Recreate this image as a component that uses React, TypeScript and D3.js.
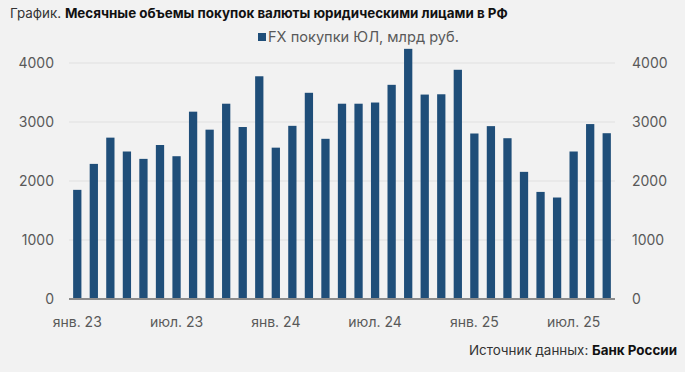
import React from 'react';
import * as d3 from 'd3';

const width = 685;
const height = 372;

// месяцы янв. 2023 – сен. 2025
const months = [
  '2023-01', '2023-02', '2023-03', '2023-04', '2023-05', '2023-06',
  '2023-07', '2023-08', '2023-09', '2023-10', '2023-11', '2023-12',
  '2024-01', '2024-02', '2024-03', '2024-04', '2024-05', '2024-06',
  '2024-07', '2024-08', '2024-09', '2024-10', '2024-11', '2024-12',
  '2025-01', '2025-02', '2025-03', '2025-04', '2025-05', '2025-06',
  '2025-07', '2025-08', '2025-09',
];
const fxPurchases = [
  1850, 2290, 2735, 2500, 2375, 2610, 2420, 3175, 2870, 3310, 2915, 3775,
  2565, 2935, 3495, 2715, 3310, 3310, 3330, 3630, 4240, 3465, 3470, 3885,
  2805, 2930, 2725, 2155, 1815, 1720, 2500, 2965, 2810,
];
const yTicks = [0, 1000, 2000, 3000, 4000];
const xTickMonths = ['2023-01', '2023-07', '2024-01', '2024-07', '2025-01', '2025-07'];
const xTickLabels = ['янв. 23', 'июл. 23', 'янв. 24', 'июл. 24', 'янв. 25', 'июл. 25'];

const barColor = '#1f4e79';
const textColor = '#595959';
const font = 'Inter, "Open Sans", sans-serif';

export default function App() {
  const x = d3.scaleBand<string>()
    .domain(months)
    .range([69, 615])
    .paddingInner(0.5)
    .paddingOuter(0.25);
  const y = d3.scaleLinear().domain([0, 4000]).range([299, 63]);

  return (
    <svg width={width} height={height} style={{ position: 'absolute', left: 0, top: 0 }} fontFamily={font}>
      <rect width={width} height={height} fill="#f2f2f2" />

      <text x={10} y={18} fontSize={13.4} fill="#333">
        График. <tspan fontWeight="bold" fill="#111">Месячные объемы покупок валюты юридическими лицами в РФ</tspan>
      </text>

      {/* legend */}
      <rect x={258} y={33} width={8} height={8} fill={barColor} />
      <text x={268} y={42} fontSize={14.6} fill={textColor}>FX покупки ЮЛ, млрд руб.</text>

      {/* grid */}
      {yTicks.filter(t => t > 0).map(t => (
        <line key={t} x1={69} x2={615} y1={y(t)} y2={y(t)} stroke="#e0e0e0" strokeWidth={1} />
      ))}

      {/* bars */}
      {fxPurchases.map((v, i) => (
        <rect key={months[i]} x={x(months[i])} y={y(v)} width={x.bandwidth()} height={y(0) - y(v)} fill={barColor} />
      ))}

      <line x1={69} x2={615} y1={y(0)} y2={y(0)} stroke="#8c8c8c" strokeWidth={2} />

      {/* y labels left/right */}
      {yTicks.map(t => (
        <g key={t}>
          <text x={54} y={y(t) + 5} textAnchor="end" fontSize={14} fill={textColor}>{t}</text>
          <text x={632} y={y(t) + 5} textAnchor="start" fontSize={14} fill={textColor}>{t}</text>
        </g>
      ))}

      {/* x labels */}
      {xTickMonths.map((m, i) => (
        <text key={m} x={(x(m) ?? 0) + x.bandwidth() / 2} y={327} textAnchor="middle" fontSize={14} fill={textColor}>
          {xTickLabels[i]}
        </text>
      ))}

      <text x={677} y={355} textAnchor="end" fontSize={13.4} fill="#333">
        Источник данных: <tspan fontWeight="bold" fill="#111">Банк России</tspan>
      </text>
    </svg>
  );
}
